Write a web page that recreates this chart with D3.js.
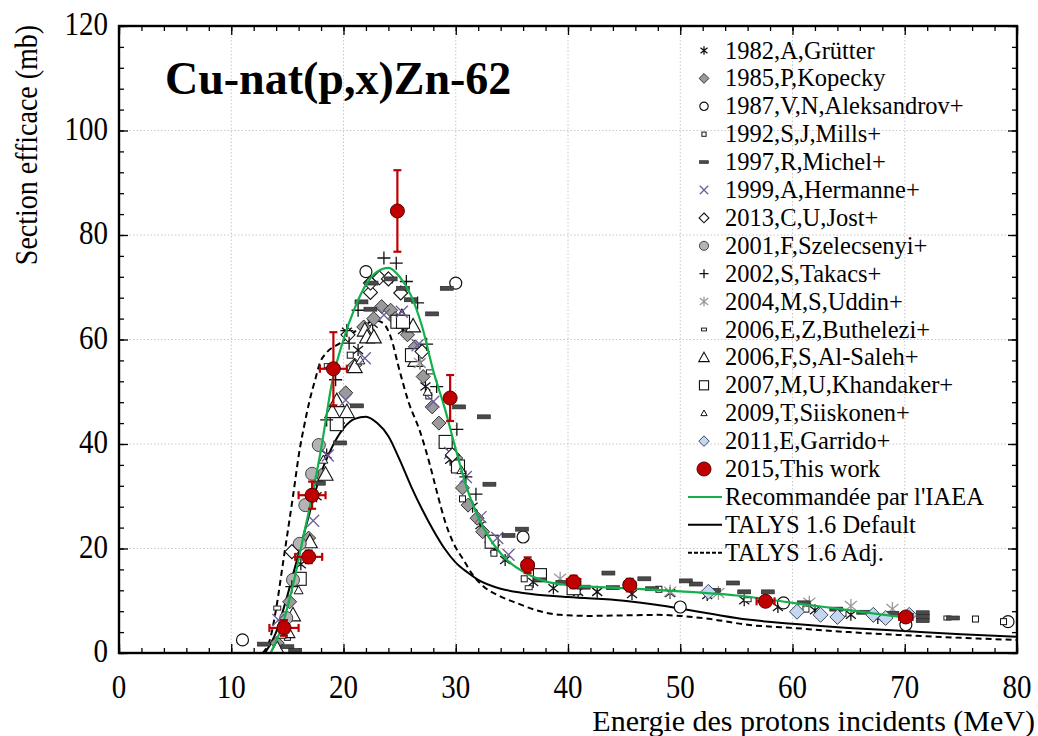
<!DOCTYPE html>
<html><head><meta charset="utf-8">
<script src="https://cdn.jsdelivr.net/npm/d3@7"></script>
<style>
body{margin:0;background:#fff;}
svg{display:block;}
text{font-family:"Liberation Serif","Times New Roman",Times,serif;}
</style></head>
<body><svg id="c" width="1038" height="736"></svg>
<script>
// ---------- data ----------
const xTicks = [0,10,20,30,40,50,60,70,80];
const yTicks = [0,20,40,60,80,100,120];

const iaeaCurve = [[13.5,0],[14.5,5],[15.5,13],[16.5,23],[17.2,30],[18,39],[19,52],[20,60],[21,66],[22,70.5],[23,73],[24,73.7],[25,72],[26,68.5],[27,62.5],[28,54],[29,47],[30,39],[31,31.5],[32,26],[33,22],[34,19.1],[35,17],[36,15.6],[37,14.5],[38,13.7],[40,13],[45,12.4],[50,11.8],[55,11],[60,9.6],[65,8.2],[70,6.8]];
const talysDefault = [[13,0],[14,4],[15,11],[16,19],[17,27],[18,34.5],[19,39.5],[20,43],[21,44.8],[22,45.2],[23,44],[24,41.5],[25,37],[26,32],[27,27.5],[28,23.5],[29,20],[30,17.3],[31,15.5],[32,14],[34,12.3],[36,11.5],[40,10.7],[45,10],[48,9.2],[50,8.5],[53,7.4],[56,6.4],[60,5.6],[65,4.8],[70,4.2],[75,3.6],[80,3.1]];
const talysAdj = [[12.8,0],[13.5,3],[14,8.5],[14.65,17.8],[15.5,30],[16.1,39],[16.5,43.5],[17,48.5],[17.5,52.5],[17.9,55.5],[18.5,57.5],[19.7,59.3],[21,61.5],[22,63],[23,63.6],[23.6,63],[24.2,60.5],[25,54],[25.8,48],[26.8,42.5],[27.7,36],[28.3,31],[29,25.5],[29.8,21],[30.7,17.8],[31.5,15],[32.5,12.7],[34,10.8],[35.5,9.5],[37,8.3],[39.3,7.3],[42,7.1],[45,7.2],[48,7.3],[50,7.1],[53,6.4],[56,5.4],[60,4.8],[65,4],[70,3.4],[75,2.9],[80,2.5]];

const grutter = [[16.2,17],[17.6,30],[18.5,38],[20.3,61.5],[21.3,58],[22.6,63],[25.3,61.8],[26.8,55.5],[27.3,51],[29.5,37],[30,35.6],[31.5,28],[32.2,24.5],[33.5,20],[34.4,17.8],[36.9,13.6],[38.7,12.4],[40.9,11.7],[42.6,11.7],[45.7,11.3],[49.1,11.5],[52.4,11.1],[55.7,10.1],[58.7,8.8],[62,8.2],[65.2,7.3],[67.6,6.7],[70,6.3]];
const kopecky = [[14.1,1.9],[15.2,9.8],[16.9,22],[18,34],[19.5,44],[20.2,49.8],[21,55.1],[21.8,62.4],[22.7,64],[23.4,66.3],[24.2,65.6],[24.6,64],[25.7,60.9],[26.4,58.6],[27.1,52.9],[27.9,47.1],[28.5,44],[29.2,40.2],[30,37.3],[30.6,31.6],[31.1,28.3],[31.9,25.8],[32.4,23.2],[33.2,21.2]];
const aleksandrov = [[11,2.5],[22,73],[30,70.8],[36,22.2],[50,8.8],[59.2,9.6],[70.1,5.4],[79.2,6]];
const mills = [[15,3],[20.6,57],[24.1,71.4],[27.6,49.2],[30.6,29.5],[33.4,19.1],[36.1,14.2],[40.7,12.2],[48.1,12.2],[61.2,8.4],[64.5,7.6],[76.3,6.5],[78.8,6]];
const michel = [[12.9,1.7],[15,1.2],[15.7,0.5],[17.8,32.5],[19.7,40.2],[21.2,47.3],[21.6,67.2],[22.4,65.8],[22.5,70.8],[24.2,71.6],[25.3,69.8],[26,67.6],[27.9,64.9],[29.2,69.8],[30.3,47.1],[32.5,45.2],[33,32.3],[34.7,22.5],[35.9,23.7],[37.5,14],[39.5,13.5],[41.4,12.6],[43.6,15.3],[44,12.5],[46.8,14.2],[47.5,12.3],[50.5,13.8],[51.4,13.2],[53,12],[54.7,13.4],[55.7,11.7],[57.8,11.7],[61,9.6],[63.9,8.4],[66.3,7.8],[68.9,7.6],[71.6,7.7],[71.6,7],[71.6,6.2],[74.3,6.7]];
const hermanne = [[14.2,6.3],[17.3,25.3],[18.6,37.8],[20.2,48.4],[21.9,56.4],[23.6,64.7],[25.2,65.3],[26.6,58.9],[28,48.1],[29.5,38.3],[30.9,33.7],[32.2,26],[33.7,22],[34.7,18.8]];
const jost = [[15.4,19.4],[20.4,60.9],[22.4,69],[22.4,70.8],[23.2,71.8],[24,71.6],[25.1,68.9],[27,57.7],[29.7,37.9]];
const szelecsenyi = [[14.9,6.7],[15.5,14],[16.1,20.9],[16.6,28.3],[17.2,34.3],[17.8,39.8]];
const takacs = [[15.4,12.7],[18.5,44.6],[19.3,52.3],[20.3,61.7],[20.5,59.3],[21.3,65.6],[23.6,75.6],[24.7,74.6],[25.6,71.1],[26.6,67],[27.4,59.1],[28.3,51],[30.1,42.8],[30.9,33.7],[31.8,30.4]];
const uddin = [[26.8,55.5],[39.3,14.2],[49.1,11.7],[53.4,11.5],[61.5,9.6],[65.2,9],[68.9,8.4]];
const buthelezi = [[14.1,8.6],[18.6,55],[27.7,53.8],[36.5,12.5],[56,10.2],[73.8,6.7]];
const alSaleh = [[14.1,0.8],[15,4.1],[15.5,7.3],[17,21.3],[18.4,34.2],[19,46.2],[19.4,48.3],[20.3,46.2],[21,54.8],[21.9,61.8],[22.1,60.5],[22.7,60.5],[25.2,64.4],[26.2,62.6],[26.4,56]];
const khandaker = [[16.1,14.2],[19.4,43.8],[24.8,63.4],[25.3,63.4],[26.1,57],[29.1,40.4],[30.2,35.7],[33.2,21.3],[37.5,14.9],[40.5,12.4]];
const siiskonen = [[14.5,3.5],[16,12],[18.2,37],[21.5,56],[27.5,50],[30.5,35]];
const garrido = [[52.5,11.7],[60.4,7.9],[62.5,7.3],[64,6.9],[67.2,7.3],[68.3,6.7],[70.4,7.3]];

const thisWorkE = [14.7,16.9,17.2,19.1,24.8,29.5,36.4,40.5,45.5,57.6,70.1];
const thisWorkSigma = [4.8,18.4,30.2,54.4,84.6,48.8,16.8,13.6,13.0,9.9,6.9];
const thisWorkDE = [1.3,1.2,1.2,1.2,0.2,0.4,0.5,0.6,0.5,0.8,0.6];
const thisWorkDS = [1.5,1.2,2.6,7,7.8,4.4,1.5,1.2,1.2,0.8,0.6];

const legendLabels = ["1982,A,Grütter","1985,P,Kopecky","1987,V,N,Aleksandrov+","1992,S,J,Mills+","1997,R,Michel+","1999,A,Hermanne+","2013,C,U,Jost+","2001,F,Szelecsenyi+","2002,S,Takacs+","2004,M,S,Uddin+","2006,E,Z,Buthelezi+","2006,F,S,Al-Saleh+","2007,M,U,Khandaker+","2009,T,Siiskonen+","2011,E,Garrido+","2015,This work","Recommandée par l'IAEA","TALYS 1.6 Default","TALYS 1.6 Adj."];

// ---------- layout ----------
const svg = d3.select("#c");
const L=119, R=1017, T=26, B=653;
const x = d3.scaleLinear().domain([0,80]).range([L,R]);
const y = d3.scaleLinear().domain([0,120]).range([B,T]);

// grid
const g = svg.append("g");
g.selectAll(".gx").data(xTicks.slice(1,-1)).enter().append("line")
 .attr("x1",d=>x(d)).attr("x2",d=>x(d)).attr("y1",T).attr("y2",B)
 .attr("stroke","#c8c8c8").attr("stroke-dasharray","1.5,2");
g.selectAll(".gy").data(yTicks.slice(1,-1)).enter().append("line")
 .attr("y1",d=>y(d)).attr("y2",d=>y(d)).attr("x1",L).attr("x2",R)
 .attr("stroke","#c8c8c8").attr("stroke-dasharray","1.5,2");

// axes via d3 axis (ticks inward)
const xMinor = d3.range(0,81,2), yMinor = d3.range(0,121,4);
function axisG(axis, tr){ const a=svg.append("g").attr("transform",tr).call(axis); a.selectAll("text").remove(); a.select(".domain").remove(); a.selectAll("line").attr("stroke","#000").attr("stroke-width",1.3); return a;}
axisG(d3.axisBottom(x).tickValues(xMinor).tickSize(-5),`translate(0,${B})`);
axisG(d3.axisBottom(x).tickValues(xTicks).tickSize(-9),`translate(0,${B})`);
axisG(d3.axisTop(x).tickValues(xMinor).tickSize(-5),`translate(0,${T})`);
axisG(d3.axisTop(x).tickValues(xTicks).tickSize(-9),`translate(0,${T})`);
axisG(d3.axisLeft(y).tickValues(yMinor).tickSize(-5),`translate(${L},0)`);
axisG(d3.axisLeft(y).tickValues(yTicks).tickSize(-9),`translate(${L},0)`);
axisG(d3.axisRight(y).tickValues(yMinor).tickSize(-5),`translate(${R},0)`);
axisG(d3.axisRight(y).tickValues(yTicks).tickSize(-9),`translate(${R},0)`);

// tick labels
const SY=1.15;
svg.append("g").selectAll("text").data(xTicks).enter().append("text")
 .attr("transform",d=>`translate(${x(d)},${698}) scale(1,${SY})`)
 .attr("text-anchor","middle").attr("font-size",29).text(d=>d);
svg.append("g").selectAll("text").data(yTicks).enter().append("text")
 .attr("transform",d=>`translate(${108},${y(d)+9}) scale(1,${SY})`)
 .attr("text-anchor","end").attr("font-size",29).text(d=>d);
svg.append("text").attr("x",1035).attr("y",731).attr("text-anchor","end")
 .attr("font-size",30).text("Energie des protons incidents (MeV)");
svg.append("text").attr("transform",`translate(37,145) rotate(-90) scale(1,${SY})`).attr("text-anchor","middle")
 .attr("font-size",28).text("Section efficace (mb)");

// clip
svg.append("clipPath").attr("id","clip").append("rect").attr("x",L).attr("y",T).attr("width",R-L).attr("height",B-T);
const plot = svg.append("g").attr("clip-path","url(#clip)");

// curves
const line = d3.line().x(d=>x(d[0])).y(d=>y(d[1])).curve(d3.curveMonotoneX);
plot.append("path").datum(talysDefault).attr("d",line).attr("fill","none").attr("stroke","#000").attr("stroke-width",2);
plot.append("path").datum(talysAdj).attr("d",line).attr("fill","none").attr("stroke","#000").attr("stroke-width",2).attr("stroke-dasharray","6,4");

// markers
function drawMarker(sel, type, s){
  s = s||1;
  const k=s;
  switch(type){
   case "asterisk": sel.append("path").attr("d",`M0,${-6*k}V${6*k}M${-5*k},${-4*k}L${5*k},${4*k}M${-5*k},${4*k}L${5*k},${-4*k}`).attr("stroke","#111").attr("stroke-width",1.3).attr("fill","none"); break;
   case "diamondGray": sel.append("path").attr("d",`M0,${-7*k}L${7*k},0L0,${7*k}L${-7*k},0Z`).attr("fill","#9a9a9a").attr("stroke","#333").attr("stroke-width",1); break;
   case "circleOpen": sel.append("circle").attr("r",6*k).attr("fill","#fff").attr("stroke","#111").attr("stroke-width",1.2); break;
   case "smallSquare": sel.append("rect").attr("x",-3*k).attr("y",-3*k).attr("width",6*k).attr("height",6*k).attr("fill","#fff").attr("stroke","#111").attr("stroke-width",1); break;
   case "dash": sel.append("rect").attr("x",-6.5*k).attr("y",-2*k).attr("width",13*k).attr("height",4*k).attr("fill","#4a4a4a").attr("stroke","#222").attr("stroke-width",0.6); break;
   case "xPurple": sel.append("path").attr("d",`M${-6*k},${-6*k}L${6*k},${6*k}M${-6*k},${6*k}L${6*k},${-6*k}`).attr("stroke","#6e5c9a").attr("stroke-width",1.3); break;
   case "diamondOpen": sel.append("path").attr("d",`M0,${-7*k}L${7*k},0L0,${7*k}L${-7*k},0Z`).attr("fill","#fff").attr("stroke","#111").attr("stroke-width",1.1); break;
   case "circleGray": sel.append("circle").attr("r",6.5*k).attr("fill","#b4b4b4").attr("stroke","#444").attr("stroke-width",1); break;
   case "plus": sel.append("path").attr("d",`M0,${-6.5*k}V${6.5*k}M${-6.5*k},0H${6.5*k}`).attr("stroke","#111").attr("stroke-width",1.3); break;
   case "starGray": sel.append("path").attr("d",`M0,${-7*k}V${7*k}M${-6*k},${-5*k}L${6*k},${5*k}M${-6*k},${5*k}L${6*k},${-5*k}`).attr("stroke","#9a9a9a").attr("stroke-width",1.3); break;
   case "smallRect": sel.append("rect").attr("x",-3.5*k).attr("y",-2*k).attr("width",7*k).attr("height",4*k).attr("fill","#fff").attr("stroke","#222").attr("stroke-width",1); break;
   case "triangleOpen": sel.append("path").attr("d",`M0,${-7.5*k}L${7.5*k},${6*k}L${-7.5*k},${6*k}Z`).attr("fill","#fff").attr("stroke","#111").attr("stroke-width",1.1); break;
   case "squareOpen": sel.append("rect").attr("x",-6.5*k).attr("y",-6.5*k).attr("width",13*k).attr("height",13*k).attr("fill","#fff").attr("stroke","#111").attr("stroke-width",1.1); break;
   case "triangleSmall": sel.append("path").attr("d",`M0,${-4.5*k}L${4.5*k},${3.5*k}L${-4.5*k},${3.5*k}Z`).attr("fill","#fff").attr("stroke","#111").attr("stroke-width",1); break;
   case "diamondBlue": sel.append("path").attr("d",`M0,${-7.5*k}L${7.5*k},0L0,${7.5*k}L${-7.5*k},0Z`).attr("fill","#c5d7ee").attr("stroke","#3a4a66").attr("stroke-width",1); break;
   case "redCircle": sel.append("circle").attr("r",7*k).attr("fill","#c00000").attr("stroke","#500").attr("stroke-width",1); break;
  }
}
const seriesDefs = [
 [grutter,"asterisk"],[kopecky,"diamondGray"],[aleksandrov,"circleOpen"],[mills,"smallSquare"],
 [hermanne,"xPurple"],[jost,"diamondOpen"],[szelecsenyi,"circleGray"],[takacs,"plus"],[uddin,"starGray"],
 [buthelezi,"smallRect"],[alSaleh,"triangleOpen"],[khandaker,"squareOpen"],[siiskonen,"triangleSmall"],
 [[],"diamondGray"],[michel,"dash"],[garrido,"diamondBlue"]
];
const drawOrder = [0,1,2,3,10,11,12,6,4,5,7,8,9,14,15];
drawOrder.forEach(i=>{
  const [data,type]=seriesDefs[i];
  plot.append("g").selectAll("g").data(data).enter().append("g")
   .attr("transform",d=>`translate(${x(d[0])},${y(d[1])})`)
   .each(function(){ drawMarker(d3.select(this),type); });
});

plot.append("path").datum(iaeaCurve).attr("d",line).attr("fill","none").attr("stroke","#12b04c").attr("stroke-width",2.2);

// this work with error bars
const tw = thisWorkE.map((e,i)=>({e, s:thisWorkSigma[i], de:thisWorkDE[i], ds:thisWorkDS[i]}));
const eb = plot.append("g").attr("stroke","#c00000").attr("stroke-width",2.2);
tw.forEach(d=>{
  eb.append("line").attr("x1",x(d.e-d.de)).attr("x2",x(d.e+d.de)).attr("y1",y(d.s)).attr("y2",y(d.s));
  eb.append("line").attr("x1",x(d.e)).attr("x2",x(d.e)).attr("y1",y(d.s-d.ds)).attr("y2",y(d.s+d.ds));
  [d.e-d.de,d.e+d.de].forEach(v=>eb.append("line").attr("x1",x(v)).attr("x2",x(v)).attr("y1",y(d.s)-4).attr("y2",y(d.s)+4));
  [d.s-d.ds,d.s+d.ds].forEach(v=>eb.append("line").attr("y1",y(v)).attr("y2",y(v)).attr("x1",x(d.e)-4).attr("x2",x(d.e)+4));
});
plot.append("g").selectAll("g").data(tw).enter().append("g")
 .attr("transform",d=>`translate(${x(d.e)},${y(d.s)})`).each(function(){drawMarker(d3.select(this),"redCircle");});

// frame
svg.append("rect").attr("x",L).attr("y",T).attr("width",R-L).attr("height",B-T).attr("fill","none").attr("stroke","#000").attr("stroke-width",2.4);

// title
svg.append("text").attr("x",165).attr("y",94).attr("font-size",46).attr("font-weight","bold").text("Cu-nat(p,x)Zn-62");

// legend
const legTypes = ["asterisk","diamondGray","circleOpen","smallSquare","dash","xPurple","diamondOpen","circleGray","plus","starGray","smallRect","triangleOpen","squareOpen","triangleSmall","diamondBlue","redCircle"];
const leg = svg.append("g");
legendLabels.forEach((lab,i)=>{
  const yy = 50.5 + i*27.9;
  leg.append("text").attr("x",725).attr("y",yy+8).attr("font-size",24.5).text(lab);
  if(i<legTypes.length){
    const gg = leg.append("g").attr("transform",`translate(704,${yy})`);
    drawMarker(gg, legTypes[i], legTypes[i]==="redCircle"?1:0.7);
  } else {
    const st = i===16?{c:"#12b04c",d:null}:(i===17?{c:"#000",d:null}:{c:"#000",d:"4,2"});
    leg.append("line").attr("x1",688).attr("x2",722).attr("y1",yy).attr("y2",yy).attr("stroke",st.c).attr("stroke-width",2).attr("stroke-dasharray",st.d);
  }
});
</script></body></html>
